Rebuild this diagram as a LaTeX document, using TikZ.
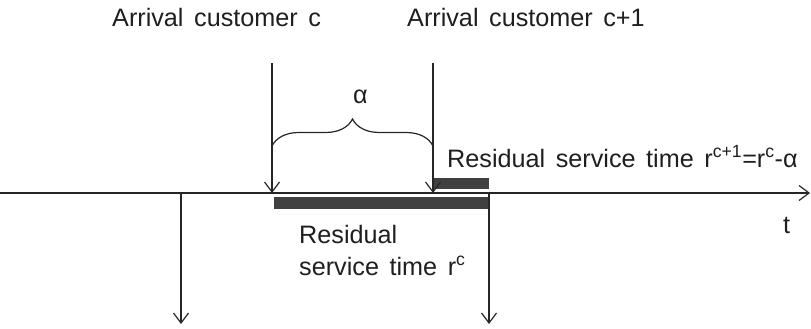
\documentclass[tikz,border=0pt]{standalone}
\usepackage{fontspec}
\setmainfont{Liberation Sans}
\usetikzlibrary{arrows.meta,decorations.pathreplacing}
\newcommand{\ws}{\hspace{0.42em}}
\begin{document}
\begin{tikzpicture}[x=1pt,y=-1pt,
  ln/.style={line width=1.2pt,draw=black!85},
  arr/.style={ln,-{Straight Barb[length=10pt,width=15pt,line width=1.2pt]}},
  bar/.style={fill=black!75,draw=none},
  lbl/.style={font=\fontsize{25.2}{30}\selectfont,text=black!88,inner sep=0pt,anchor=base west},
  brc/.style={ln,decorate,decoration={brace,amplitude=27pt,aspect=0.5}}]
\useasboundingbox (0,0) rectangle (811,329);
% coordinates
\coordinate (axL) at (0,193);
\coordinate (axR) at (810,193);
\coordinate (c1top) at (272,63);
\coordinate (c1bot) at (272,193);
\coordinate (c2top) at (433,63);
\coordinate (c2bot) at (433,193);
\coordinate (d1top) at (181,193);
\coordinate (d1bot) at (181,324);
\coordinate (d2top) at (489,193);
\coordinate (d2bot) at (489,324);
\coordinate (bL) at (272,146);
\coordinate (bR) at (433,146);
% bars
\fill[bar] (433,178) rectangle (489,189);
\fill[bar] (274,197) rectangle (489,209);
% axis
\draw[arr] (axL) -- (axR);
% arrivals
\draw[arr] (c1top) -- (c1bot);
\draw[arr] (c2top) -- (c2bot);
% departures
\draw[arr] (d1top) -- (d1bot);
\draw[arr] (d2top) -- (d2bot);
% brace
\draw[brc] (bL) -- (bR);
% labels
\node[lbl] (a1) at (112,27) {Arrival\ws customer\ws c};
\node[lbl] (a2) at (407,27) {Arrival\ws customer\ws c+1};
\node[lbl] (al) at (353,103) {α};
\node[lbl] (r1) at (447,167) {Residual\ws service\ws time\ws r\textsuperscript{c+1}=r\textsuperscript{c}-α};
\node[lbl] (t) at (783,233) {t};
\node[lbl] (r2) at (299,243) {Residual};
\node[lbl] (r3) at (299,275) {service\ws time\ws r\textsuperscript{c}};
\end{tikzpicture}
\end{document}
